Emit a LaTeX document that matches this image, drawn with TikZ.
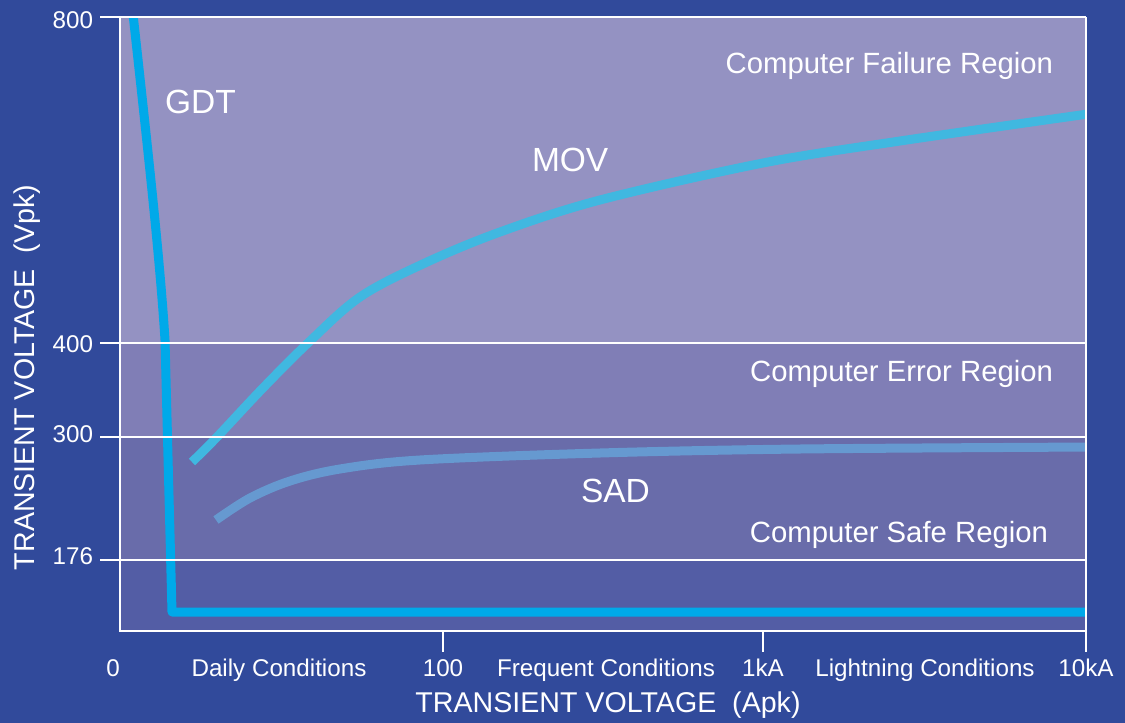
\documentclass[tikz,border=0pt]{standalone}
\usepackage{fontspec}
\setmainfont{Liberation Sans}
\definecolor{bgblue}{HTML}{314A9B}
\definecolor{rfail}{HTML}{9492C2}
\definecolor{rerr}{HTML}{807EB6}
\definecolor{rsafe}{HTML}{696CAA}
\definecolor{rlow}{HTML}{535DA5}
\definecolor{gdtc}{HTML}{00A9E9}
\definecolor{movc}{HTML}{40B8E0}
\definecolor{sadc}{HTML}{6699D0}
\tikzset{
  frameline/.style={draw=white, line width=2pt},
  curve/.style={line width=9pt, line join=round},
  lbl/.style={text=white, inner sep=0pt, outer sep=0pt},
  bigf/.style={lbl, font=\fontsize{33.5}{38}\selectfont},
  regf/.style={lbl, font=\fontsize{29.3}{34}\selectfont},
  tickf/.style={lbl, font=\fontsize{24.2}{28}\selectfont},
  axf/.style={lbl, font=\fontsize{28.6}{33}\selectfont},
}
\begin{document}
\begin{tikzpicture}[x=1pt,y=-1pt]
\useasboundingbox (0,0) rectangle (1125,723);
\fill[bgblue] (0,0) rectangle (1125,723);
% regions
\fill[rfail] (120,17) rectangle (1086,343);
\fill[rerr] (120,343) rectangle (1086,437);
\fill[rsafe] (120,437) rectangle (1086,560);
\fill[rlow] (120,560) rectangle (1086,631);
% curves
\begin{scope}
\clip (120,17) rectangle (1086,631);
\draw[curve, movc] plot[smooth, tension=0.55] coordinates {(192,462) (217,437) (262,389) (308,343) (360,297) (425,263) (500,232) (600,200) (763,163) (900,141) (1095,113)};
\draw[curve, sadc] plot[smooth, tension=0.55] coordinates {(216,520) (250,498) (290,481) (340,469) (420,460) (600,453) (800,449) (1095,447)};
\draw[curve, gdtc] (132,5) .. controls (148,150) and (160,260) .. (165,340) -- (172,612) -- (1095,612);
\end{scope}
% frame and grid
\draw[frameline] (100,17) -- (1086,17);
\draw[frameline] (100,343) -- (1086,343);
\draw[frameline] (100,437) -- (1086,437);
\draw[frameline] (100,560) -- (1086,560);
\draw[frameline] (120,17) -- (120,631) -- (1086,631);
\draw[frameline] (1086,17) -- (1086,652);
\draw[frameline] (443,631) -- (443,652);
\draw[frameline] (763,631) -- (763,652);
% y tick labels
\node[tickf, anchor=base east] (y800) at (93,28) {800};
\node[tickf, anchor=base east] (y400) at (93,352) {400};
\node[tickf, anchor=base east] (y300) at (93,442) {300};
\node[tickf, anchor=base east] (y176) at (93,564) {176};
% x tick labels
\node[tickf, anchor=base] (x0) at (113,676) {0};
\node[tickf, anchor=base] (xdaily) at (279,676) {Daily Conditions};
\node[tickf, anchor=base] (x100) at (443,676) {100};
\node[tickf, anchor=base] (xfreq) at (606,676) {Frequent Conditions};
\node[tickf, anchor=base] (x1k) at (763,676) {1kA};
\node[tickf, anchor=base] (xlight) at (925,676) {Lightning Conditions};
\node[tickf, anchor=base] (x10k) at (1086,676) {10kA};
% axis titles
\node[axf, anchor=base] (xtitle) at (608,712) {TRANSIENT VOLTAGE\ \ (Apk)};
\node[axf, anchor=base, rotate=90] (ytitle) at (34.5,377.5) {TRANSIENT VOLTAGE\ \ (Vpk)};
% region labels
\node[regf, anchor=base east] (fail) at (1053,73) {Computer Failure Region};
\node[regf, anchor=base east] (err) at (1053,381) {Computer Error Region};
\node[regf, anchor=base east] (safe) at (1048,542) {Computer Safe Region};
% curve labels
\node[bigf, anchor=base west] (gdt) at (165,113) {GDT};
\node[bigf, anchor=base west] (mov) at (532,171) {MOV};
\node[bigf, anchor=base west] (sad) at (581,502) {SAD};
\end{tikzpicture}
\end{document}
